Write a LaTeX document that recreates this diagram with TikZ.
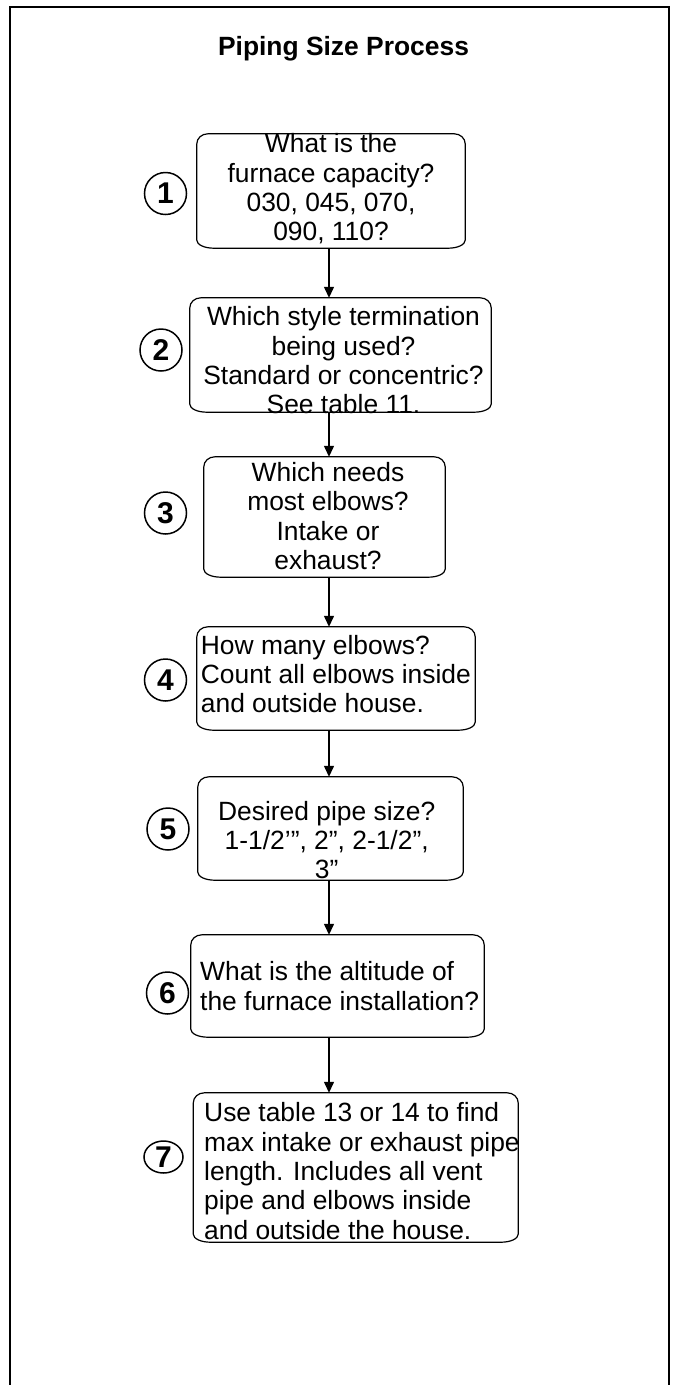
\documentclass[tikz,border=0pt]{standalone}
\usepackage{fontspec}
\setmainfont{Liberation Sans}
\usetikzlibrary{arrows.meta,calc,shapes.geometric}
\newcommand\eboxoutline[1]{%
  \draw[outline] ([xshift=11pt]#1.north west) -- ([xshift=-11pt]#1.north east)
    arc[start angle=90,end angle=0,x radius=11pt,y radius=10pt]
    -- ([yshift=8pt]#1.south east)
    arc[start angle=0,end angle=-90,x radius=17pt,y radius=8pt]
    -- ([xshift=17pt]#1.south west)
    arc[start angle=270,end angle=180,x radius=17pt,y radius=8pt]
    -- ([yshift=-10pt]#1.north west)
    arc[start angle=180,end angle=90,x radius=11pt,y radius=10pt] -- cycle;}
\tikzset{
  boxshape/.style={rectangle, draw=none, inner sep=0pt},
  outline/.style={line width=1.2pt, draw=black},
  txt/.style={inner sep=0pt, font=\fontsize{26.4}{29.3}\selectfont},
  num/.style={circle, draw, line width=1.5pt, minimum size=42pt, inner sep=0pt,
    font=\bfseries\fontsize{30}{30}\selectfont},
  flow/.style={line width=1.3pt, -{Triangle[width=10pt,length=11pt]}},
  frameline/.style={line width=2pt}
}
\begin{document}
\begin{tikzpicture}[x=1pt,y=1pt]
\useasboundingbox (0,0) rectangle (678,-1385);
\draw[frameline] (9.5,-1395) -- (9.5,-7) -- (669,-7) -- (669,-1395);
\node[txt, font=\bfseries\fontsize{26.4}{29.3}\selectfont] (title) at (343.5,-48.5) {Piping Size Process};

\node[boxshape, minimum width=268pt, minimum height=114pt] (b1) at (331,-191) {};
\node[boxshape, minimum width=301pt, minimum height=114pt] (b2) at (340.5,-355) {};
\node[boxshape, minimum width=241pt, minimum height=120pt] (b3) at (324.5,-517) {};
\node[boxshape, minimum width=278pt, minimum height=103pt] (b4) at (336,-678.5) {};
\node[boxshape, minimum width=265pt, minimum height=103pt] (b5) at (330.5,-828.5) {};
\node[boxshape, minimum width=293pt, minimum height=102pt] (b6) at (337.5,-986) {};
\node[boxshape, minimum width=324.5pt, minimum height=149pt] (b7) at (355.75,-1167.5) {};
\foreach \b in {b1,b2,b3,b4,b5,b6,b7}{\eboxoutline{\b}}

\node[txt, align=center] (t1) at (331,-189) {What is the\\furnace capacity?\\030, 045, 070,\\090, 110?};
\node[txt, align=center] (t2) at (343.5,-360.5) {Which style termination\\being used?\\Standard or concentric?\\See table 11.};
\node[txt, align=center] (t3) at (328,-516) {Which needs\\most elbows?\\Intake or\\exhaust?};
\node[txt, align=left, anchor=west] (t4) at (200.7,-674) {How many elbows?\\Count all elbows inside\\and outside house.};
\node[txt, align=center] (t5) at (326.7,-840) {Desired pipe size?\\1-1/2’”, 2”, 2-1/2”,\\3”};
\node[txt, align=left, anchor=west] (t6) at (200,-986) {What is the altitude of\\the furnace installation?};
\node[txt, align=left, anchor=west] (t7) at (204,-1171) {Use table 13 or 14 to find\\max intake or exhaust pipe\\length. Includes all vent\\pipe and elbows inside\\and outside the house.};

\node[num] (n1) at (165.5,-193.5) {1};
\node[num] (n2) at (161,-350) {2};
\node[num] (n3) at (165.5,-513) {3};
\node[num] (n4) at (165.5,-680) {4};
\node[num] (n5) at (168,-829) {5};
\node[num] (n6) at (167.5,-993) {6};
\node[num, ellipse, minimum width=39pt, minimum height=32pt] (n7) at (163.5,-1157) {7};

\coordinate (spine) at (329,0);
\draw[flow] (b1.south -| spine) -- (b2.north -| spine);
\draw[flow] (b2.south -| spine) -- (b3.north -| spine);
\draw[flow] (b3.south -| spine) -- (b4.north -| spine);
\draw[flow] (b4.south -| spine) -- (b5.north -| spine);
\draw[flow] (b5.south -| spine) -- (b6.north -| spine);
\draw[flow] (b6.south -| spine) -- (b7.north -| spine);
\end{tikzpicture}
\end{document}
